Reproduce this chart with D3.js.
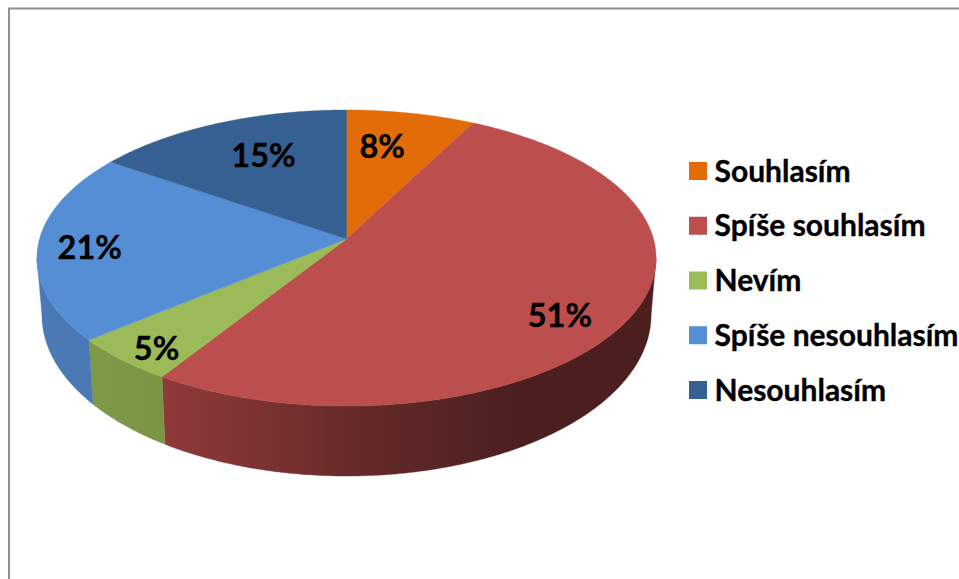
<!DOCTYPE html>
<html><head><meta charset="utf-8">
<script src="https://cdn.jsdelivr.net/npm/d3@7/dist/d3.min.js"></script>
<style>html,body{margin:0;padding:0;background:#fff;overflow:hidden}svg{display:block}
text{font-family:Lato,"Open Sans",sans-serif;font-weight:700;fill:#000;stroke:#000;stroke-width:0.35px}</style>
</head><body><div id="c"></div>
<script>
const categories = ["Souhlasím","Spíše souhlasím","Nevím","Spíše nesouhlasím","Nesouhlasím"];
const values = [7.6,51.4,5.0,20.6,15.4];
const labels = ["8%","51%","5%","21%","15%"];
const topColors = ["#e36c09","#bc4f4d","#9bbb59","#558ed5","#376092"];
const labelRadius = [0.7,0.8,0.92,0.83,0.695];
const labelNudge = [[-11,0],[-11,16],[15,0],[-1,4],[9,1]];

const W=959,H=579;
const svg=d3.select("#c").append("svg").attr("width",W).attr("height",H);
const defs=svg.append("defs");

// chart frame
svg.append("rect").attr("x",9).attr("y",8.5).attr("width",W+20).attr("height",H+20)
  .attr("fill","#fff").attr("stroke","#8f8f8f").attr("stroke-width",2);

// perspective pie geometry
const cx=346.5, R=307, apexY=239, persp=-0.1284, yk=114.9;
const topEllipse={cy:258,rx:310,ry:148}, botEllipse={cy:315,rx:305,ry:161};
function projTop(theta,r=1){
  const u=Math.sin(theta)*r, v=-Math.cos(theta)*r, d=1+persp*v;
  return [cx+R*u/d,(yk*v+apexY)/d];
}
function projBot(theta){
  const p=projTop(theta);
  return [cx+(p[0]-cx)*botEllipse.rx/topEllipse.rx,
          botEllipse.cy+(p[1]-topEllipse.cy)*botEllipse.ry/topEllipse.ry];
}
const pie=d3.pie().sort(null).value(d=>d)(values);
const line=d3.line();
const sample=(a,b)=>{const n=Math.max(2,Math.ceil(Math.abs(b-a)/0.01));return d3.range(n+1).map(i=>a+(b-a)*i/n);};
const rad=d=>d*Math.PI/180;
const visA=rad(97.4), visB=rad(262.6);

// wall gradients
const wallStops=[
 null,
 [[166,"#90393a"],[260,"#7c3232"],[350,"#682a2a"],[430,"#5a2525"],[520,"#4c1e1e"],[660,"#4c1e1e"]],
 [[90,"#7d9a47"],[166,"#7a9444"]],
 [[40,"#4a79b4"],[92,"#4a7ab6"]],
 null];
wallStops.forEach((st,i)=>{
  if(!st)return;
  const x0=st[0][0],x1=st[st.length-1][0];
  const g=defs.append("linearGradient").attr("id","wall"+i).attr("gradientUnits","userSpaceOnUse")
    .attr("x1",x0).attr("x2",x1).attr("y1",0).attr("y2",0);
  st.forEach(s=>g.append("stop").attr("offset",(s[0]-x0)/(x1-x0)).attr("stop-color",s[1]));
});

// walls
pie.forEach((s,i)=>{
  const a=Math.max(s.startAngle,visA), b=Math.min(s.endAngle,visB);
  if(b<=a) return;
  const th=sample(a,b);
  const pts=th.map(t=>projTop(t)).concat(th.slice().reverse().map(projBot));
  svg.append("path").attr("d",line(pts)+"Z").attr("fill","url(#wall"+i+")")
    .attr("stroke","url(#wall"+i+")").attr("stroke-width",0.4);
});

// top faces
pie.forEach((s,i)=>{
  const pts=[projTop(0,0)].concat(sample(s.startAngle,s.endAngle).map(t=>projTop(t)));
  svg.append("path").attr("d",line(pts)+"Z").attr("fill",topColors[i])
    .attr("stroke",topColors[i]).attr("stroke-width",0.4);
});

// data labels
const fs=32.5;
pie.forEach((s,i)=>{
  const p=projTop((s.startAngle+s.endAngle)/2,labelRadius[i]);
  svg.append("text").attr("x",p[0]+labelNudge[i][0]).attr("y",p[1]+labelNudge[i][1]+10.5)
    .attr("text-anchor","middle").attr("font-size",fs).text(labels[i]);
});

// legend
const legendY=d3.scalePoint().domain(categories).range([171,390]);
const lg=svg.append("g").selectAll("g").data(categories).join("g");
lg.append("rect").attr("x",689).attr("y",d=>legendY(d)-9).attr("width",18).attr("height",18)
  .attr("fill",(d,i)=>topColors[i]);
lg.append("text").attr("x",714.5).attr("y",d=>legendY(d)+10.5).attr("font-size",30).text(d=>d);
</script></body></html>
